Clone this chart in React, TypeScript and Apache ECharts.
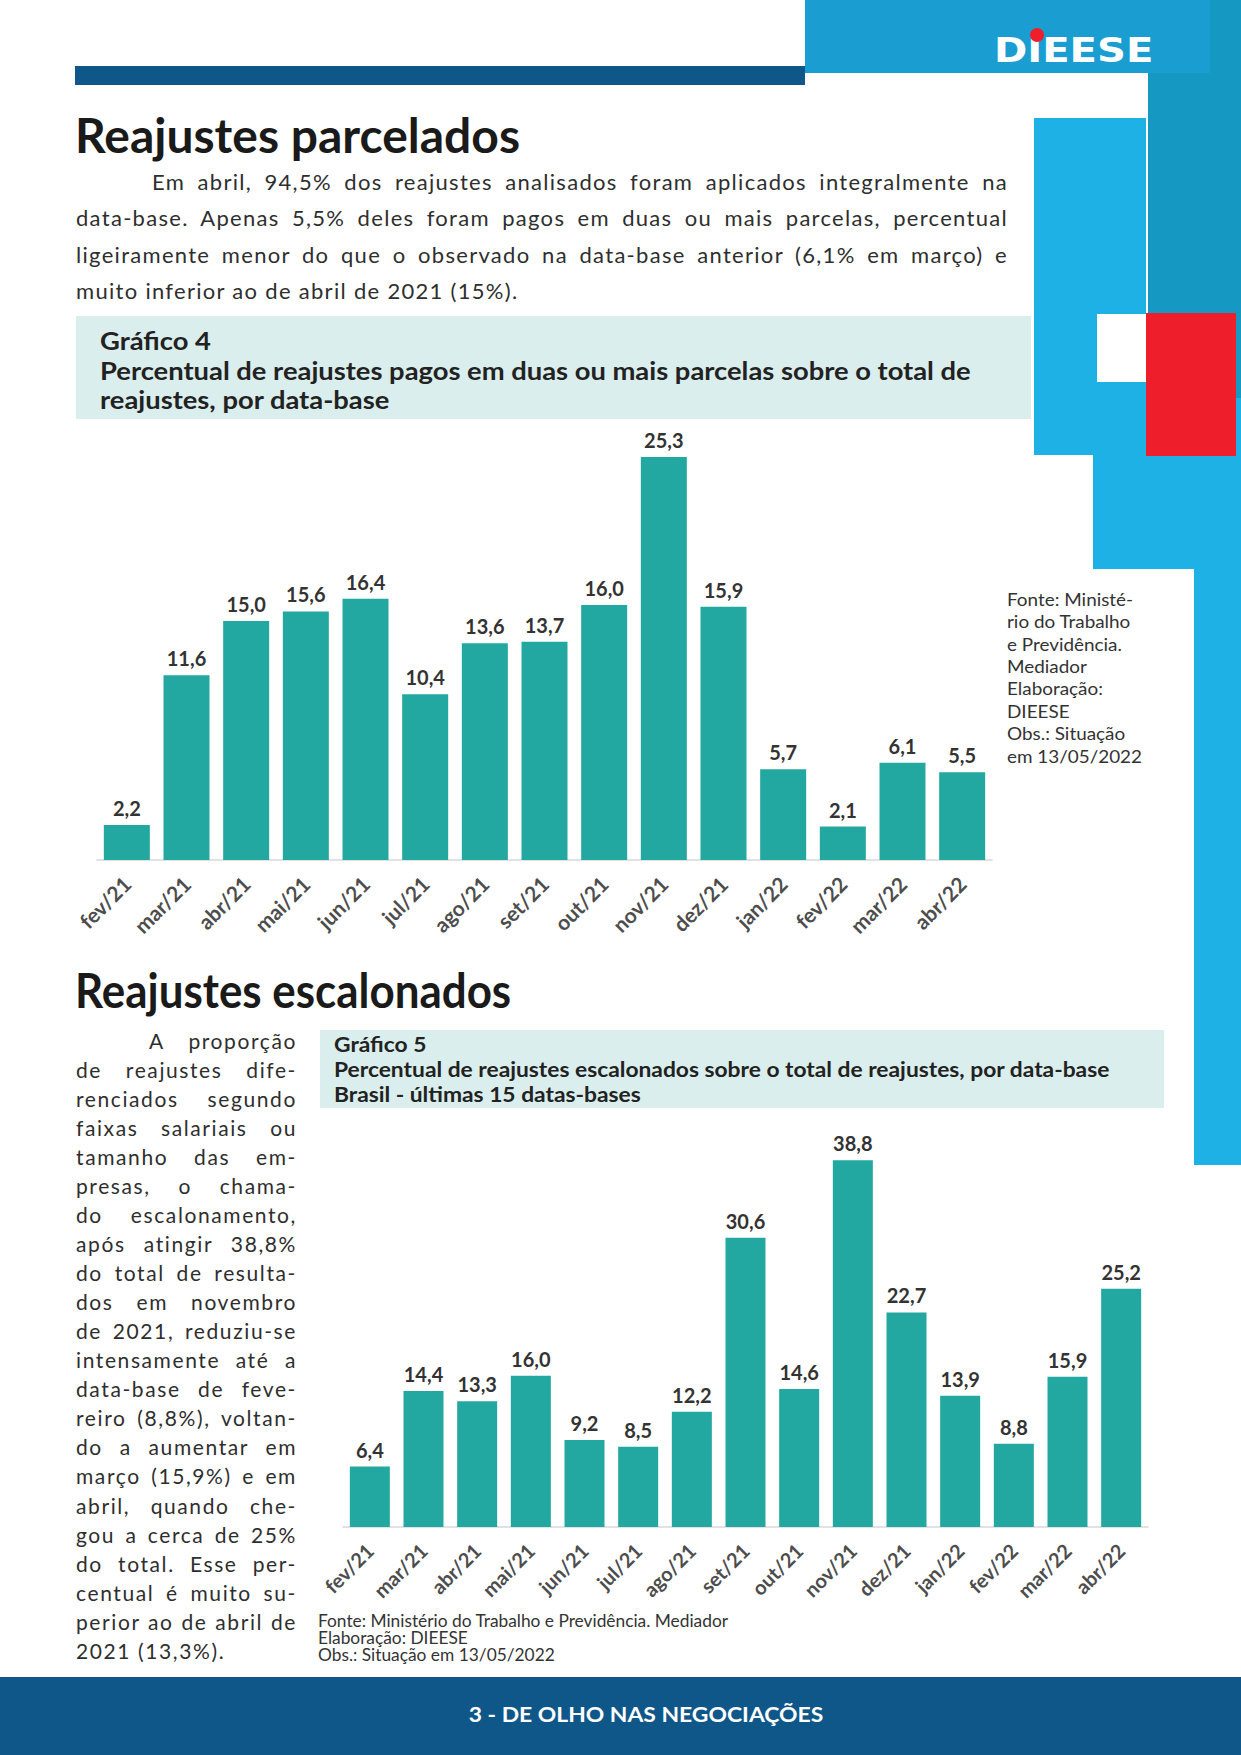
import React, { useEffect, useRef } from "react";
import * as echarts from "echarts";

const CATEGORIES = ["fev/21", "mar/21", "abr/21", "mai/21", "jun/21", "jul/21", "ago/21", "set/21", "out/21", "nov/21", "dez/21", "jan/22", "fev/22", "mar/22", "abr/22"];
const PARCELADOS = [2.2, 11.6, 15.0, 15.6, 16.4, 10.4, 13.6, 13.7, 16.0, 25.3, 15.9, 5.7, 2.1, 6.1, 5.5];
const ESCALONADOS = [6.4, 14.4, 13.3, 16.0, 9.2, 8.5, 12.2, 30.6, 14.6, 38.8, 22.7, 13.9, 8.8, 15.9, 25.2];

const TITLE_1 = "Reajustes parcelados";
const TITLE_2 = "Reajustes escalonados";
const CHART1_TITLE = ["Gráfico 4", "Percentual de reajustes pagos em duas ou mais parcelas sobre o total de", "reajustes, por data-base"];
const CHART2_TITLE = ["Gráfico 5", "Percentual de reajustes escalonados sobre o total de reajustes, por data-base", "Brasil - últimas 15 datas-bases"];
const FONTE_1 = ["Fonte: Ministé-", "rio do Trabalho", "e Previdência.", "Mediador", "Elaboração:", "DIEESE", "Obs.: Situação", "em 13/05/2022"];
const FONTE_2 = ["Fonte: Ministério do Trabalho e Previdência. Mediador", "Elaboração: DIEESE", "Obs.: Situação em 13/05/2022"];
const FOOTER = "3 - DE OLHO NAS NEGOCIAÇÕES";

const PARA_1 = [
  "Em abril, 94,5% dos reajustes analisados foram aplicados integralmente na",
  "data-base. Apenas 5,5% deles foram pagos em duas ou mais parcelas, percentual",
  "ligeiramente menor do que o observado na data-base anterior (6,1% em março) e",
  "muito inferior ao de abril de 2021 (15%).",
];
const PARA_2 = [
  "A proporção",
  "de reajustes dife-",
  "renciados segundo",
  "faixas salariais ou",
  "tamanho das em-",
  "presas, o chama-",
  "do escalonamento,",
  "após atingir 38,8%",
  "do total de resulta-",
  "dos em novembro",
  "de 2021, reduziu-se",
  "intensamente até a",
  "data-base de feve-",
  "reiro (8,8%), voltan-",
  "do a aumentar em",
  "março (15,9%) e em",
  "abril, quando che-",
  "gou a cerca de 25%",
  "do total. Esse per-",
  "centual é muito su-",
  "perior ao de abril de",
  "2021 (13,3%).",
];

const BAR = "#22a8a0";
const FONT = "Lato";

function fmt(v: number) {
  return v.toFixed(1).replace(".", ",");
}

function txt(text: string, x: number, y: number, size: number, weight: string, fill: string, align = "left", scaleX = 1) {
  return {
    type: "text",
    x,
    y,
    scaleX,
    style: {
      text,
      fontSize: size,
      fontWeight: weight,
      fontFamily: FONT,
      fill,
      textAlign: align,
      align,
      textVerticalAlign: "middle",
      verticalAlign: "middle",
    },
  };
}

function rect(x: number, y: number, w: number, h: number, fill: string) {
  return { type: "rect", shape: { x, y, width: w, height: h }, style: { fill } };
}

function Paragraph(props: { lines: string[]; left: number; top: number; width: number; lineHeight: number; fontSize: number; indent: number; spacing: number }) {
  const { lines, left, top, width, lineHeight, fontSize, indent, spacing } = props;
  return (
    <div style={{ position: "absolute", left, top, width, fontFamily: FONT, fontSize, color: "#2e2e2e", letterSpacing: spacing }}>
      {lines.map((l, i) => {
        const last = i === lines.length - 1;
        return (
          <div
            key={i}
            style={{
              height: lineHeight,
              lineHeight: lineHeight + "px",
              textAlign: last ? "left" : "justify",
              textAlignLast: last ? "left" : "justify",
              paddingLeft: i === 0 ? indent : 0,
              whiteSpace: "nowrap",
            } as any}
          >
            {l}
          </div>
        );
      })}
    </div>
  );
}

export default function App() {
  const ref = useRef<HTMLDivElement>(null);

  useEffect(() => {
    if (!ref.current) return;
    const chart = echarts.init(ref.current, null, { renderer: "svg" });

    const xAxisBase = (gridIndex: number, size: number, margin: number) => ({
      gridIndex,
      type: "category",
      data: CATEGORIES,
      axisLine: { lineStyle: { color: "#d9d9d9", width: 1.5 } },
      axisTick: { show: false },
      axisLabel: { rotate: 45, interval: 0, margin, fontSize: size, fontWeight: "bold", color: "#4d4d4d", fontFamily: FONT },
    });

    const barSeries = (idx: number, data: number[], width: number) => ({
      type: "bar",
      xAxisIndex: idx,
      yAxisIndex: idx,
      data,
      barWidth: width,
      itemStyle: { color: BAR },
      label: {
        show: true,
        position: "top",
        distance: 7,
        formatter: (p: any) => fmt(p.value),
        fontSize: 20,
        fontWeight: "bold",
        fontFamily: FONT,
        color: "#333333",
      },
    });

    const graphics: any[] = [
      // right decorations
      rect(1148, 0, 93, 313, "#1599c2"),
      rect(1236, 313, 5, 85, "#1599c2"),
      rect(805, 0, 405, 73, "#1a9dd0"),
      rect(75, 66, 730, 19, "#0f5689"),
      rect(1034, 118, 112, 337, "#1eb1e5"),
      rect(1236, 398, 5, 60, "#1eb1e5"),
      rect(1093, 455, 148, 114, "#1eb1e5"),
      rect(1194, 569, 47, 596, "#1eb1e5"),
      rect(1097, 314, 49, 68, "#ffffff"),
      rect(1146, 313, 90, 143, "#ee1f2b"),
      // logo
      {
        type: "text",
        x: 994,
        y: 50,
        scaleX: 1.18,
        style: { text: "DIEESE", fontSize: 34, fontWeight: "bold", fontFamily: "DejaVu Sans", fill: "#ffffff", textVerticalAlign: "middle", verticalAlign: "middle" },
      },
      { type: "circle", shape: { cx: 1037, cy: 35, r: 7 }, style: { fill: "#ee1f2b" } },
      // titles
      txt(TITLE_1, 75, 134, 48, "bold", "#1a1a1a", "left", 1.0),
      txt(TITLE_2, 75, 990, 48, "bold", "#1a1a1a", "left", 0.915),
      // chart boxes
      rect(76, 316, 955, 103, "#daeeed"),
      rect(320, 1030, 844, 78, "#daeeed"),
      txt(CHART1_TITLE[0], 100, 341, 24, "bold", "#222222", "left", 1.14),
      txt(CHART1_TITLE[1], 100, 371, 24, "bold", "#222222", "left", 1.14),
      txt(CHART1_TITLE[2], 100, 400, 24, "bold", "#222222", "left", 1.14),
      txt(CHART2_TITLE[0], 334, 1045, 20, "bold", "#222222", "left", 1.14),
      txt(CHART2_TITLE[1], 334, 1070, 20, "bold", "#222222", "left", 1.14),
      txt(CHART2_TITLE[2], 334, 1095, 20, "bold", "#222222", "left", 1.14),
      // footer
      rect(0, 1677, 1241, 78, "#0f5789"),
      txt(FOOTER, 646, 1714, 21, "bold", "#ffffff", "center", 1.09),
    ];
    FONTE_1.forEach((l, i) => graphics.push(txt(l, 1007, 599 + i * 22.4, 18, "normal", "#333333", "left", 1.05)));
    FONTE_2.forEach((l, i) => graphics.push(txt(l, 318, 1621 + i * 17, 17, "normal", "#333333", "left", 1.02)));

    chart.setOption({
      animation: false,
      grid: [
        { left: 97, top: 382, width: 895, height: 478 },
        { left: 343, top: 1149, width: 805, height: 378 },
      ],
      xAxis: [xAxisBase(0, 21, 20), xAxisBase(1, 20, 20)],
      yAxis: [
        { gridIndex: 0, type: "value", min: 0, max: 30, show: false },
        { gridIndex: 1, type: "value", min: 0, max: 40, show: false },
      ],
      series: [barSeries(0, PARCELADOS, 46), barSeries(1, ESCALONADOS, 40)],
      graphic: { elements: graphics },
    });

    return () => chart.dispose();
  }, []);

  return (
    <div style={{ position: "absolute", left: 0, top: 0, width: 1241, height: 1755, background: "#ffffff", overflow: "hidden" }}>
      <div ref={ref} style={{ position: "absolute", left: 0, top: 0, width: 1241, height: 1755 }} />
      <Paragraph lines={PARA_1} left={76} top={164} width={932} lineHeight={36.4} fontSize={22} indent={76} spacing={1.3} />
      <Paragraph lines={PARA_2} left={76} top={1025.5} width={221} lineHeight={29.07} fontSize={21} indent={73} spacing={1.6} />
    </div>
  );
}
